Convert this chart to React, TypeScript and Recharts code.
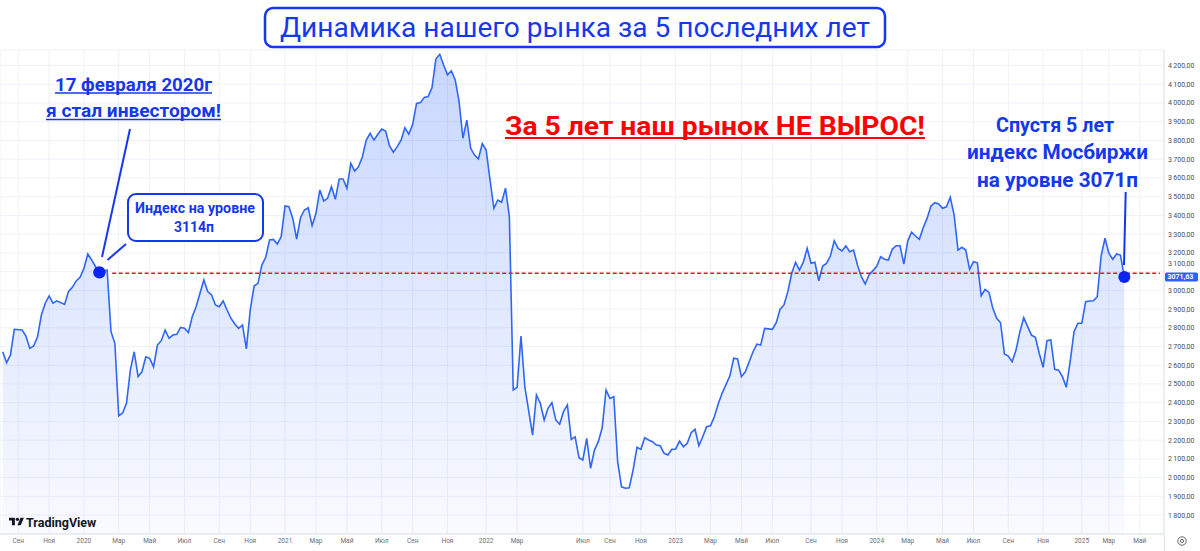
import React from 'react';
import { AreaChart, Area, XAxis, YAxis, CartesianGrid, ReferenceLine, ReferenceDot } from 'recharts';

// weekly closes of the MOEX index, bar index counted from Aug 2019
const weeks = [
  0, 1, 2, 3, 5, 6, 7, 8, 9, 10, 11, 12, 13, 14, 16, 17, 18, 19, 20, 21, 22, 23, 24, 25, 27, 28, 29,
  30, 31, 32, 33, 34, 35, 36, 37, 38, 39, 40, 41, 42, 43, 44, 45, 46, 47, 48, 49, 50, 52, 53, 54, 55,
  56, 57, 58, 59, 60, 61, 62, 63, 64, 65, 66, 67, 68, 69, 70, 71, 72, 73, 74, 75, 76, 77, 78, 79, 80,
  81, 82, 83, 84, 85, 86, 87, 88, 89, 90, 91, 92, 93, 94, 95, 96, 97, 98, 99, 100, 101, 102, 103, 104,
  105, 106, 107, 108, 109, 110, 111, 112, 113, 114, 115, 116, 117, 118, 119, 120, 121, 122, 123, 124,
  125, 126, 127, 128, 129, 130, 131, 132, 133, 134, 135, 137, 138, 139, 140, 141, 142, 143, 144, 145,
  146, 147, 148, 149, 150, 151, 152, 153, 154, 155, 156, 157, 158, 159, 160, 161, 162, 163, 164, 165,
  166, 167, 168, 169, 170, 171, 172, 173, 174, 175, 176, 177, 178, 179, 180, 181, 182, 183, 184, 185,
  186, 188, 189, 190, 191, 192, 194, 195, 196, 197, 199, 200, 201, 202, 203, 204, 205, 206, 207, 208,
  209, 210, 211, 212, 213, 214, 215, 216, 217, 218, 219, 220, 221, 222, 223, 224, 225, 226, 227, 228,
  229, 230, 231, 232, 233, 234, 235, 236, 237, 238, 239, 240, 241, 242, 243, 244, 245, 246, 247, 248,
  249, 250, 251, 252, 253, 254, 255, 256, 257, 258, 259, 260, 261, 262, 263, 264, 265, 266, 267, 268,
  269, 270, 271, 272, 273, 274, 275, 276, 277, 278, 279, 280, 281, 282, 283, 284, 285, 286, 287, 288,
  289, 290,
];

const closes = [
  2672, 2613, 2655, 2792, 2788, 2756, 2690, 2703, 2752, 2868, 2931, 2970, 2931, 2944, 2925, 2993, 3016, 3050, 3069, 3117, 3194, 3162, 3126, 3096, 3108, 2779, 2717,
  2330, 2345, 2397, 2574, 2672, 2539, 2565, 2645, 2637, 2592, 2708, 2731, 2788, 2744, 2761, 2765, 2802, 2797, 2774, 2859, 2912, 3055, 2993, 2975, 2922,
  2912, 2943, 2895, 2851, 2820, 2797, 2815, 2687, 2895, 3023, 3037, 3135, 3176, 3269, 3272, 3247, 3286, 3450, 3446, 3384, 3274, 3388, 3429, 3441, 3345,
  3411, 3536, 3477, 3491, 3553, 3486, 3594, 3594, 3545, 3678, 3637, 3660, 3713, 3802, 3838, 3802, 3833, 3861, 3850, 3772, 3737, 3767, 3802, 3868,
  3833, 3886, 3998, 4002, 4030, 4034, 4082, 4235, 4260, 4203, 4150, 4171, 4123, 4007, 3812, 3909, 3758, 3722, 3701, 3783,
  3749, 3589, 3438, 3482, 3470, 3545, 3393, 2468, 2482, 2756, 2485, 2227, 2441, 2397, 2308, 2370, 2400, 2308, 2285, 2352,
  2388, 2204, 2218, 2106, 2094, 2210, 2050, 2147, 2192, 2266, 2468, 2423, 2432, 2085, 1951, 1943, 1946, 2041, 2162, 2151,
  2213, 2201, 2192, 2174, 2170, 2130, 2121, 2151, 2153, 2195, 2165, 2183, 2240, 2258, 2170, 2218, 2272, 2277, 2325, 2393,
  2450, 2542, 2637, 2633, 2539, 2565, 2672, 2713, 2708, 2797, 2792, 2827, 2899, 2922, 2993, 3091, 3150, 3108, 3150, 3224,
  3144, 3150, 3051, 3130, 3144, 3183, 3265, 3224, 3210, 3237, 3206, 3215, 3135, 3073, 3034, 3082, 3105, 3130, 3179, 3166,
  3162, 3219, 3238, 3238, 3140, 3263, 3310, 3290, 3272, 3334, 3384, 3450, 3468, 3461, 3438, 3446, 3497, 3402, 3215, 3230,
  3215, 3112, 3153, 3147, 2971, 3005, 2989, 2904, 2851, 2827, 2660, 2649, 2619, 2681, 2779, 2854, 2806, 2761, 2749, 2664,
  2589, 2731, 2735, 2578, 2574, 2539, 2482, 2619, 2779, 2824, 2824, 2939, 2943, 2944, 2966, 3183, 3278, 3198, 3166, 3194,
  3188, 3071.63,
];

// time scale labels (bar index where each label sits)
const monthTickWeeks = [4, 12, 21, 30, 38, 47, 56, 64, 73, 81, 89, 98, 106, 115, 125, 133, 150, 157, 165, 174, 183, 191, 199, 209, 217, 226, 234, 243, 251, 260, 269, 279, 286, 294];
const monthTickLabels = ['Сен', 'Ноя', '2020', 'Мар', 'Май', 'Июл', 'Сен', 'Ноя', '2021', 'Мар', 'Май', 'Июл', 'Сен', 'Ноя', '2022', 'Мар', 'Июл', 'Сен', 'Ноя', '2023', 'Мар', 'Май', 'Июл', 'Сен', 'Ноя', '2024', 'Мар', 'Май', 'Июл', 'Сен', 'Ноя', '2025', 'Мар', 'Май'];

const priceTicks = [1800, 1900, 2000, 2100, 2200, 2300, 2400, 2500, 2600, 2700, 2800, 2900, 3000, 3100, 3200, 3300, 3400, 3500, 3600, 3700, 3800, 3900, 4000, 4100, 4200];

// marked points and the hand drawn level
const startWeek = 25;
const startValue = 3096;
const lastWeek = 290;
const lastValue = 3071.63;
const levelValue = 3091;
const levelFrom = 28.3;
const levelTo = 299.2;

const X_MIN = -0.7;
const X_MAX = 300.26;
const Y_MIN = 1699;
const Y_MAX = 4283;

const BLUE = '#1537ee';
const FONT = 'Roboto, "Noto Sans", sans-serif';

const rows = weeks.map((w, i) => ({ week: w, close: closes[i] }));

const fmtPrice = (v: number) => {
  const th = Math.floor(v / 1000);
  const rest = String(Math.round(v % 1000)).padStart(3, '0');
  return `${th}\u2009${rest},00`;
};

const fmtMonth = (v: number) => {
  const idx = monthTickWeeks.indexOf(v);
  return idx >= 0 ? monthTickLabels[idx] : '';
};

// price scale label; the one next to the last-price tag is pushed up like TradingView does
const PriceTick = (props: any) => {
  const { x, y, payload } = props;
  const shift = Math.abs(payload.value - lastValue) < 60 ? -8 : 0;
  return (
    <text x={x} y={y + shift} dy="0.355em" fontSize={7} fill="#4a4c55" fontFamily={FONT}>
      {fmtPrice(payload.value)}
    </text>
  );
};

// blue price tag on the right scale
const PriceTag = (props: any) => {
  const vb = props.viewBox || {};
  const x = vb.x + vb.width;
  const y = vb.y;
  return (
    <g>
      <rect x={x + 1} y={y - 4.5} width={33} height={9} rx={1.5} fill="#2962ff" />
      <text x={x + 3.5} y={y + 2.6} fill="#fff" fontSize={7} fontWeight={700} fontFamily={FONT}>
        3071,63
      </text>
    </g>
  );
};

const Annotations = () => (
  <svg width={1200} height={551} style={{ position: 'absolute', left: 0, top: 0, pointerEvents: 'none' }}>
    {/* title */}
    <rect x={265} y={8} width={620} height={39} rx={8} fill="#fff" stroke={BLUE} strokeWidth={2.5} />
    <text x={575} y={37} textAnchor="middle" fill={BLUE} fontSize={27} fontFamily={FONT} textLength={590} lengthAdjust="spacingAndGlyphs">
      Динамика нашего рынка за 5 последних лет
    </text>

    {/* left note */}
    <g fill={BLUE} fontFamily={FONT} fontWeight={700} fontSize={18.5} textAnchor="middle">
      <text x={133.5} y={90.5} textLength={157} lengthAdjust="spacingAndGlyphs">17 февраля 2020г</text>
      <text x={133.5} y={117} textLength={175} lengthAdjust="spacingAndGlyphs">я стал инвестором!</text>
    </g>
    <line x1={55} x2={212} y1={93} y2={93} stroke={BLUE} strokeWidth={1.5} />
    <line x1={46} x2={221} y1={119.5} y2={119.5} stroke={BLUE} strokeWidth={1.5} />
    <line x1={130} y1={129} x2={102} y2={257} stroke={BLUE} strokeWidth={2} />

    <rect x={128} y={194} width={135} height={47} rx={8} fill="#fff" stroke={BLUE} strokeWidth={2} />
    <g fill={BLUE} fontFamily={FONT} fontWeight={700} fontSize={14} textAnchor="middle">
      <text x={195} y={213} textLength={120} lengthAdjust="spacingAndGlyphs">Индекс на уровне</text>
      <text x={194} y={232}>3114п</text>
    </g>
    <line x1={126} y1={244} x2={107.5} y2={260} stroke={BLUE} strokeWidth={2} />

    {/* red headline */}
    <text x={715} y={135} textAnchor="middle" fill="#ff0000" fontSize={26} fontWeight={700} fontFamily={FONT} textLength={420} lengthAdjust="spacingAndGlyphs">
      За 5 лет наш рынок НЕ ВЫРОС!
    </text>
    <line x1={505} x2={925} y1={138} y2={138} stroke="#ff0000" strokeWidth={2} />

    {/* right note */}
    <g fill={BLUE} fontFamily={FONT} fontWeight={700} fontSize={20} textAnchor="middle">
      <text x={1055} y={131.5} textLength={118} lengthAdjust="spacingAndGlyphs">Спустя 5 лет</text>
      <text x={1057.5} y={159} textLength={181} lengthAdjust="spacingAndGlyphs">индекс Мосбиржи</text>
      <text x={1057.5} y={187} textLength={161} lengthAdjust="spacingAndGlyphs">на уровне 3071п</text>
    </g>
    <line x1={1125.7} y1={192} x2={1124} y2={265} stroke={BLUE} strokeWidth={2} />

    {/* TradingView mark */}
    <g transform="translate(9,516) scale(0.42)" fill="#131722">
      <path d="M14 22H7V11H0V4h14v18zM28 22h-8l7.5-18h8L28 22z" />
      <circle cx={20} cy={8} r={4} />
    </g>
    <text x={26} y={527} fontSize={12.5} fontWeight={700} fill="#131722" fontFamily={FONT}>TradingView</text>

    {/* scale corner */}
    <line x1={1164.5} x2={1164.5} y1={534} y2={551} stroke="#e0e3eb" />
    <circle cx={1182} cy={541} r={4.2} fill="none" stroke="#555" strokeWidth={0.9} />
    <circle cx={1182} cy={541} r={1.6} fill="none" stroke="#555" strokeWidth={0.9} />
  </svg>
);

export default function App() {
  return (
    <div style={{ position: 'absolute', left: 0, top: 0, width: 1200, height: 551, background: '#fff', overflow: 'hidden' }}>
      <AreaChart width={1200} height={551} data={rows} margin={{ top: 50, right: 0, bottom: 0, left: 0 }}>
        <defs>
          <linearGradient id="areaFill" gradientUnits="userSpaceOnUse" x1={0} y1={50} x2={0} y2={534}>
            <stop offset="0%" stopColor="#2962ff" stopOpacity={0.26} />
            <stop offset="100%" stopColor="#2962ff" stopOpacity={0.03} />
          </linearGradient>
        </defs>
        <CartesianGrid stroke="#eef1f8" strokeWidth={1} />
        <XAxis
          type="number"
          dataKey="week"
          domain={[X_MIN, X_MAX]}
          allowDataOverflow
          ticks={monthTickWeeks}
          interval={0}
          tickFormatter={fmtMonth}
          height={17}
          tickLine={false}
          tickSize={2}
          tickMargin={2}
          axisLine={{ stroke: '#e0e3eb' }}
          tick={{ fontSize: 6.5, fill: '#6a6d78', fontFamily: FONT }}
        />
        <YAxis
          orientation="right"
          type="number"
          domain={[Y_MIN, Y_MAX]}
          allowDataOverflow
          ticks={priceTicks}
          interval={0}
          width={36}
          tickLine={false}
          tickSize={2}
          tickMargin={2}
          axisLine={{ stroke: '#e0e3eb' }}
          tick={<PriceTick />}
        />
        <Area
          type="linear"
          dataKey="close"
          stroke="#2f66f5"
          strokeWidth={1.6}
          fill="url(#areaFill)"
          fillOpacity={1}
          baseValue={Y_MIN}
          dot={false}
          activeDot={false}
          isAnimationActive={false}
        />
        <ReferenceLine
          segment={[{ x: levelFrom, y: levelValue }, { x: levelTo, y: levelValue }]}
          stroke="#e8141b"
          strokeWidth={1.4}
          strokeDasharray="4 2.5"
        />
        <ReferenceLine y={lastValue} stroke="none" label={<PriceTag />} />
        <ReferenceDot x={startWeek} y={startValue} r={6.2} fill="#0a24f2" stroke="none" />
        <ReferenceDot x={lastWeek} y={lastValue} r={6} fill="#0a24f2" stroke="none" />
      </AreaChart>
      <Annotations />
    </div>
  );
}
